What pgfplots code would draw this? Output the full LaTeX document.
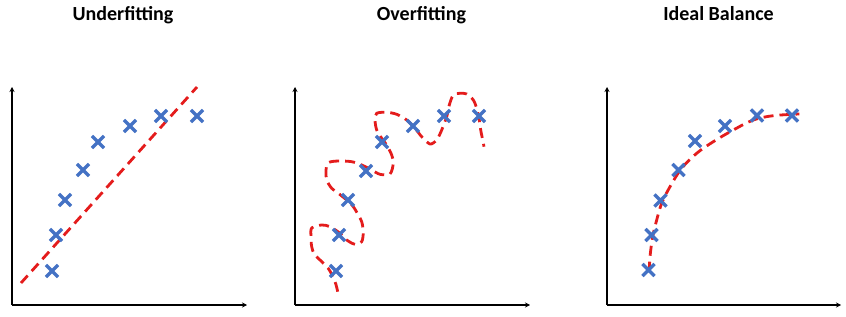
\documentclass[border=0pt]{standalone}
\usepackage{pgfplots}
\pgfplotsset{compat=1.18}
\usepackage{fontspec}
\setmainfont{Carlito}
\usetikzlibrary{arrows.meta}
\definecolor{mblue}{HTML}{4472C4}
\definecolor{mred}{RGB}{228,28,28}
\pgfplotsset{
  panel/.style={
    scale only axis, enlargelimits=false, clip=false,
    axis lines=left, xtick=\empty, ytick=\empty,
    axis line style={line width=1.3pt, -{Stealth[length=5pt,width=5pt]}},
    ymin=11, ymax=229, height=218pt, anchor=south west,
  },
  pts/.style={only marks, mark=x, mark size=8.5pt, mark options={line width=3.3pt, color=mblue}},
  fit/.style={mred, line width=2.8pt, dash pattern=on 10pt off 6pt, no marks},
}
\begin{document}
\begin{tikzpicture}
\useasboundingbox (0,0) rectangle (846pt,316pt);
% Panel 1
\begin{axis}[panel, xmin=12, xmax=247, width=235pt, at={(12pt,11pt)}]
\addplot[pts] coordinates {(52,45) (56,81) (65,116) (83,146) (98,174) (130,190) (161,200) (197,200)};
\addplot[fit] coordinates {(21,33) (197,229)};
\node[font=\bfseries\fontsize{20}{22}\selectfont, anchor=base] at (axis cs:123,295) {Underfitting};
\end{axis}
% Panel 2
\begin{axis}[panel, xmin=295, xmax=530, width=235pt, at={(295pt,11pt)}]
\addplot[pts] coordinates {(336,45) (339,81) (348,116) (366,145) (382,174) (413,190) (444,200) (479,200)};
\addplot[fit, smooth, tension=0.5] coordinates {
(337.7,24.3) (335,34.3) (328,48) (315,61) (311.7,69.3) (311,79.3) (311.7,88)
(321.7,91) (330,89.3) (340,82.7) (346.7,76) (355,71.7) (361.7,74.3) (363.3,84.3)
(361.7,94.3) (358.3,101) (353.3,109.3) (346.7,116) (338.3,122.7) (331.7,127.7)
(326.7,136) (326,146) (328.3,153.3) (338.3,155) (351.7,154.3) (361.7,151) (371.7,146)
(380,141.7) (390,142) (393.3,152.7) (391.7,161) (386.7,171) (381.7,177.7) (376.7,186)
(375,196) (376.7,202.7) (386.7,203.7) (396.7,201.7) (406.7,196) (415,187.7) (421.7,179.3)
(430,172) (436.7,176) (441.7,186) (446.7,199.3) (449.3,211) (453.3,221) (460,222.7)
(466.7,222) (473.3,216) (476.7,207.7) (479,197.7) (480.7,186) (482.7,176) (484,169.3)};
\node[font=\bfseries\fontsize{20}{22}\selectfont, anchor=base] at (axis cs:421.5,295) {Overfitting};
\end{axis}
% Panel 3
\begin{axis}[panel, xmin=607, xmax=841, width=234pt, at={(607pt,11pt)}]
\addplot[pts] coordinates {(648.5,46) (651.5,81) (660.5,115.5) (678.5,146) (695,175) (725,190) (757,200.5) (792,200.5)};
\addplot[fit, smooth, tension=0.6] coordinates {
(649.3,44.3) (650,59.3) (652.7,79.3) (656.7,96) (661.7,112.7) (670,129.3) (681.7,147.7)
(696.7,162.7) (713.3,174.3) (733.3,186) (753.3,196) (773.3,200.3) (799.3,202)};
\node[font=\bfseries\fontsize{20}{22}\selectfont, anchor=base] at (axis cs:718.5,295) {Ideal Balance};
\end{axis}
\end{tikzpicture}
\end{document}
